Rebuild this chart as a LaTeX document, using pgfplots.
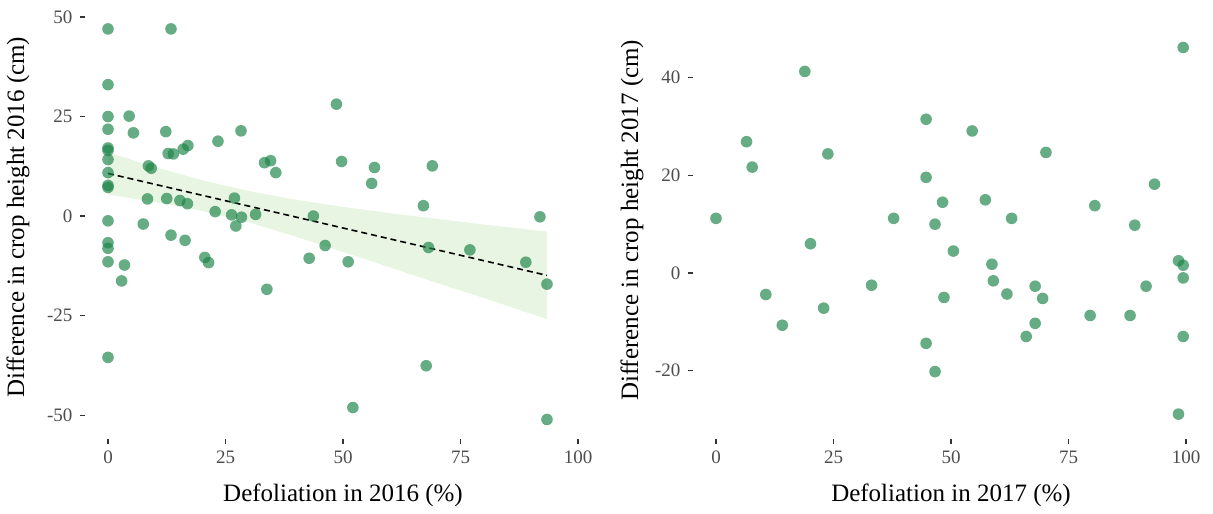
\documentclass[border=0pt]{standalone}
\usepackage{fontspec}
\setmainfont{Liberation Serif}
\usepackage{pgfplots}
\pgfplotsset{compat=1.18}

\definecolor{ptgreen}{RGB}{30,132,73}
\definecolor{band}{RGB}{213,237,204}
\definecolor{ticklab}{RGB}{77,77,77}

\pgfplotsset{
  defol/.style={
    scale only axis, width=258.5pt, height=214.8pt,
    axis line style={draw=none},
    tick align=outside, major tick length=2.5pt,
    tick style={draw=black!80, line width=0.6pt},
    xtick pos=bottom, ytick pos=left,
    xmin=-5, xmax=105, xtick={0,25,50,75,100},
    tick label style={font=\fontsize{9.5}{10}\selectfont, text=ticklab},
    /pgf/number format/assume math mode=true,
    label style={font=\fontsize{12.5}{14}\selectfont},
    xlabel style={at={(axis description cs:0.5,-0.1304)}, anchor=center},
    clip=false,
  },
  pts/.style={only marks, mark=*, mark size=2.9pt, color=ptgreen,
    mark options={draw=ptgreen, fill=ptgreen, fill opacity=0.68, draw opacity=0}},
}

\begin{document}
\begin{tikzpicture}
\path[use as bounding box] (0,0) rectangle (606.5pt,256.5pt);

% 2016
\begin{axis}[defol, at={(42.25pt,37pt)}, anchor=south west,
    ymin=-56, ymax=51.9, ytick={-50,-25,0,25,50},
    xlabel={Defoliation in 2016 (\%)},
    ylabel={Difference in crop height 2016 (cm)},
    ylabel style={at={(axis description cs:-0.1286,0.516)}, anchor=center}]
\addplot[pts] coordinates {
 (0,47) (13.4,47) (0,33) (0,25) (4.5,25.1) (0,21.8) (5.4,20.9) (12.3,21.2)
 (28.3,21.4) (23.4,18.8) (0,17.1) (0,16.5) (0,14.2) (0,10.9) (0,7.7) (0,7.2)
 (8.6,12.6) (9.2,12) (12.8,15.7) (13.9,15.6) (16,16.8) (17,17.7) (33.3,13.4)
 (34.6,13.9) (35.7,10.9) (48.6,28.1) (49.7,13.7) (56.7,12.2) (56.1,8.2)
 (69,12.6) (67.1,2.6) (91.9,-0.2) (8.4,4.3) (12.5,4.4) (15.3,3.9) (16.9,3.1)
 (26.9,4.5) (22.8,1.1) (26.3,0.3) (28.4,-0.3) (31.4,0.4) (43.7,0) (27.2,-2.5)
 (0,-1.2) (7.5,-2) (13.4,-4.8) (16.4,-6.1) (0,-6.7) (0,-8.1) (46.2,-7.4)
 (42.8,-10.6) (51.1,-11.5) (68.2,-7.9) (77,-8.5) (88.9,-11.6) (93.4,-17.1)
 (0,-11.5) (3.5,-12.3) (2.9,-16.3) (20.6,-10.4) (21.4,-11.7) (33.8,-18.4)
 (0,-35.5) (67.7,-37.6) (52.1,-48.1) (93.4,-51.1)
};
% confidence band, drawn over the points
\addplot[draw=none, fill=band, fill opacity=0.54] coordinates {
 (0,16.0) (10,12.31) (20,9.01) (30,6.27) (40,4.09) (50,2.30) (60,0.73)
 (70,-0.72) (80,-2.11) (93.4,-3.89)
 (93.4,-25.89) (80,-20.6) (70,-16.8) (60,-12.9) (50,-9.0) (40,-5.2)
 (30,-1.6) (20,1.3) (10,3.5) (0,5.4)
} -- cycle;
\addplot[black, line width=0.8pt, dash pattern=on 3pt off 2pt] coordinates {
 (0,10.7) (93.4,-14.9)
};
\end{axis}

% 2017
\begin{axis}[defol, at={(346.25pt,37pt)}, anchor=south west,
    ymin=-34, ymax=54, ytick={-20,0,20,40},
    xlabel={Defoliation in 2017 (\%)},
    ylabel={Difference in crop height 2017 (cm)},
    ylabel style={at={(axis description cs:-0.117,0.509)}, anchor=center}]
\addplot[pts] coordinates {
 (18.9,41.3) (44.7,31.5) (6.5,26.9) (23.8,24.4) (7.7,21.7) (44.7,19.6)
 (48.2,14.5) (0,11.2) (37.8,11.2) (46.6,10.0) (20.1,6.0) (33.1,-2.5)
 (10.6,-4.4) (48.5,-5.0) (22.9,-7.2) (14.1,-10.7) (44.7,-14.4) (46.6,-20.2)
 (50.5,4.5) (99.4,46.2) (54.5,29.1) (70.2,24.7) (93.3,18.2) (57.3,15.0)
 (80.6,13.8) (62.9,11.2) (89.1,9.8) (58.7,1.8) (98.4,2.5) (99.4,1.6)
 (99.4,-1.0) (59.0,-1.6) (67.9,-2.7) (91.5,-2.7) (61.9,-4.3) (69.5,-5.2)
 (79.6,-8.7) (88.1,-8.7) (67.9,-10.3) (66.0,-13.0) (99.4,-13.0) (98.4,-28.9)
};
\end{axis}
\end{tikzpicture}
\end{document}
